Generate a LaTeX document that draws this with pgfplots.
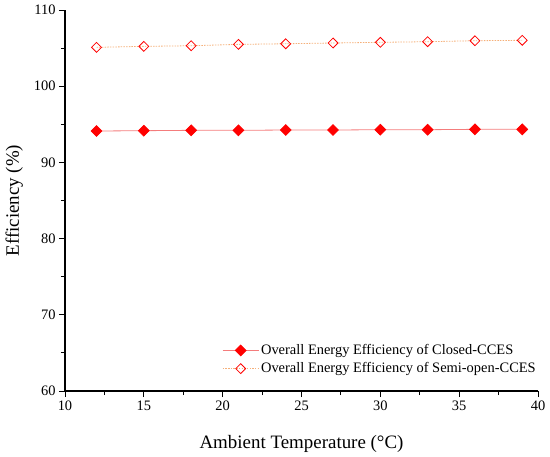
\documentclass[border=0pt]{standalone}
\usepackage{pgfplots}
\pgfplotsset{compat=1.18}
\usepackage{fontspec}
\setmainfont{Liberation Serif}
\definecolor{closedline}{HTML}{F47C7C}
\definecolor{semiline}{HTML}{F5B07A}
\begin{document}
\begin{tikzpicture}
\begin{axis}[
  scale only axis,
  width=473bp, height=381bp,
  xmin=10, xmax=40, ymin=60, ymax=110,
  xtick={10,15,...,40}, ytick={60,70,...,110},
  minor x tick num=1, minor y tick num=1,
  axis lines*=left,
  axis line style={line width=1.1pt},
  tick style={line width=1pt, black},
  tick align=outside,
  major tick length=6bp, minor tick length=4bp,
  every tick label/.append style={font=\fontsize{14.5}{16}\selectfont},
  /pgf/number format/assume math mode=true,
  xlabel={Ambient Temperature (°C)},
  ylabel={Efficiency (\%)},
  label style={font=\fontsize{19}{22}\selectfont},
  xlabel style={yshift=-18bp},
  ylabel style={yshift=4bp},
  legend style={draw=none, fill=none, at={(rel axis cs:0.33,0.13)}, anchor=north west,
    font=\fontsize{14.5}{16}\selectfont, row sep=2.5bp, inner sep=1bp},
  legend cell align=left,
  legend image code/.code={\draw[mark repeat=2, mark phase=2, #1] plot coordinates {(0bp,0bp)(18bp,0bp)(36bp,0bp)};},
]
\addplot[closedline, line width=0.8pt, mark=square*, mark size=3.8bp,
  mark options={rotate=45, fill=red, draw=red, solid}]
  coordinates {(12,94.12)(15,94.16)(18,94.21)(21,94.21)(24,94.25)(27,94.25)(30,94.29)(33,94.29)(36,94.34)(39,94.34)};
\addlegendentry{Overall Energy Efficiency of Closed-CCES}
\addplot[semiline, line width=0.8pt, dash pattern=on 1.5pt off 1.2pt, mark=square, mark size=3.5bp,
  mark options={rotate=45, fill=white, draw=red, solid, line width=0.8pt}]
  coordinates {(12,105.10)(15,105.23)(18,105.31)(21,105.49)(24,105.57)(27,105.67)(30,105.76)(33,105.84)(36,105.97)(39,106.02)};
\addlegendentry{Overall Energy Efficiency of Semi-open-CCES}
\end{axis}
\path (current axis.south west) ++(-65bp,-66bp) rectangle ++(550bp,457bp);
\end{tikzpicture}
\end{document}
